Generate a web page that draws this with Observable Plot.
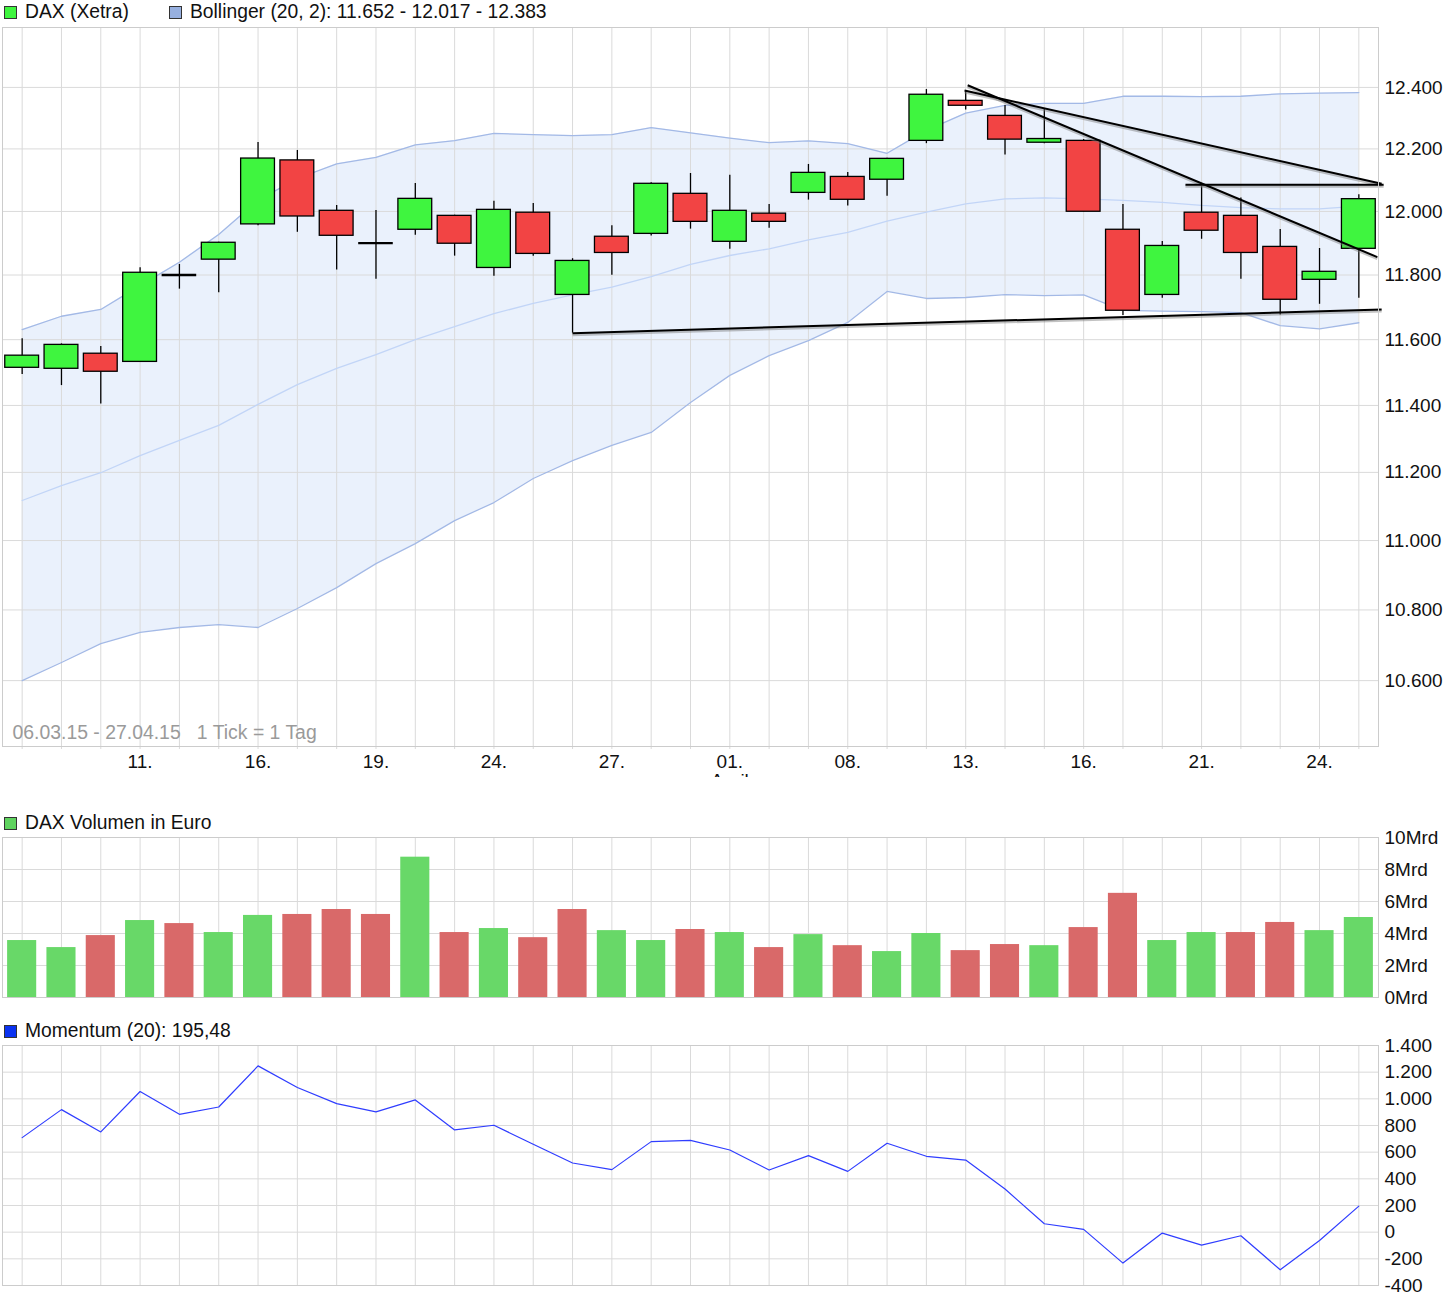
<!DOCTYPE html>
<html><head><meta charset="utf-8">
<script src="https://cdn.jsdelivr.net/npm/d3@7"></script>
<script src="https://cdn.jsdelivr.net/npm/@observablehq/plot@0.6"></script>
<style>
body{margin:0;background:#fff;font-family:"Liberation Sans",Arial,sans-serif;}
#wrap{position:relative;width:1452px;height:1304px;overflow:hidden;background:#fff;}
.leg{position:absolute;font-size:19.3px;color:#111;white-space:nowrap;line-height:20px;display:flex;align-items:center;z-index:2;}
.sq{display:inline-block;width:11px;height:11px;border:1px solid #333;margin-right:8px;}
.abs{position:absolute;left:0;}
</style></head><body><div id="wrap"></div>
<script>
// ---- data ----
const dates = ["06.03","09.03","10.03","11.03","12.03","13.03","16.03","17.03","18.03","19.03","20.03","23.03","24.03","25.03","26.03","27.03","30.03","31.03","01.04","02.04","07.04","08.04","09.04","10.04","13.04","14.04","15.04","16.04","17.04","20.04","21.04","22.04","23.04","24.04","27.04"];
const open  = [11514,11511,11557,11532,11800,11848,11959,12163,12002,11900,11942,11986,11822,11996,11738,11920,11929,12056,11904,11993,12059,12110,12101,12226,12356,12307,12220,12226,11942,11738,11996,11986,11888,11785,11882];
const high  = [11603,11587,11579,11823,11833,11903,12221,12195,12019,12003,12089,11988,12032,12025,11851,11955,12091,12121,12115,12022,12150,12124,12170,12393,12390,12341,12330,12230,12022,11905,12079,12043,11943,11883,12053];
const low   = [11494,11460,11404,11530,11756,11745,11955,11934,11816,11787,11925,11859,11796,11859,11620,11799,11922,11944,11881,11947,12036,12017,12048,12217,12326,12180,12217,11999,11674,11728,11912,11787,11676,11709,11728];
const close = [11551,11584,11502,11807,11800,11901,12169,11984,11923,11900,12040,11898,12005,11866,11844,11869,12088,11967,12002,11967,12123,12037,12168,12376,12340,12230,12232,11999,11689,11891,11939,11869,11723,11810,12039];
const bbUpper  = [11631,11672,11693,11767,11840,11927,12035,12105,12152,12173,12213,12227,12250,12246,12243,12246,12269,12252,12235,12220,12226,12217,12186,12260,12316,12341,12348,12348,12371,12371,12370,12371,12379,12381,12383];
const bbMiddle = [11117,11161,11199,11250,11295,11340,11403,11463,11512,11554,11600,11640,11680,11712,11738,11762,11795,11833,11861,11882,11910,11934,11969,11998,12024,12040,12043,12040,12035,12029,12019,12012,12008,12008,12017];
const bbLower  = [10600,10651,10704,10736,10750,10758,10750,10804,10864,10933,10991,11058,11111,11182,11235,11280,11319,11409,11491,11551,11597,11653,11749,11727,11730,11739,11736,11738,11690,11688,11686,11683,11643,11633,11652];
const volume   = [3.56,3.12,3.87,4.81,4.62,4.06,5.13,5.19,5.50,5.19,8.77,4.06,4.31,3.74,5.50,4.18,3.56,4.25,4.06,3.12,3.93,3.24,2.87,4.00,2.93,3.31,3.24,4.37,6.51,3.56,4.06,4.06,4.69,4.18,5.00];
const momentum = [709,919,752,1055,884,939,1247,1085,964,902,992,767,802,659,519,469,679,689,616,466,574,456,667,569,541,324,63,21,-232,-7,-97,-27,-282,-62,195.48];
const priceTicks = [10600,10800,11000,11200,11400,11600,11800,12000,12200,12400];
const volTicks = [0,2,4,6,8,10];
const momTicks = [-400,-200,0,200,400,600,800,1000,1200,1400];
const labelDates = ["11.03","16.03","19.03","24.03","27.03","01.04","08.04","13.04","16.04","21.04","24.04"];
const labelTexts = ["11.","16.","19.","24.","27.","01.\nApril","08.","13.","16.","21.","24."];
// trend lines drawn on the chart: [dateIndex, price] endpoints
const trendLines = [
  {from:[14, 11620], to:[34.58, 11693]},
  {from:[24.05, 12407], to:[34.47, 11856]},
  {from:[23.97, 12390], to:[34.58, 12088]},
  {from:[29.59, 12085], to:[34.63, 12085]}
];
const titleMain = "DAX (Xetra)";
const titleBB = "Bollinger (20, 2): 11.652 - 12.017 - 12.383";
const titleVol = "DAX Volumen in Euro";
const titleMom = "Momentum (20): 195,48";
const rangeText = "06.03.15 - 27.04.15   1 Tick = 1 Tag";

// ---- build ----
const W = 1452;
const idx = dates.map((d,i)=>i);
const candles = dates.map((d,i)=>({i, date:d, o:open[i], h:high[i], l:low[i], c:close[i],
  up: close[i] >= open[i], volUp: i===0 ? true : close[i] >= close[i-1]}));
const GREEN = "#3ff53f", RED = "#f24444";
const VGREEN = "#68d868", VRED = "#d96969";
const gridStroke = "#dadada";
const frameStroke = "#cccccc";
const fmtDE = d => (d<0?"-":"") + String(Math.abs(d)).replace(/\B(?=(\d{3})+(?!\d))/g, ".");
const font = {fontFamily:"'Liberation Sans', Arial, sans-serif", fontSize:"19px", color:"#111", background:"transparent", overflow:"hidden"};
const xDom = {domain:[-0.5, 34.5], axis:null};
const labelIdx = labelDates.map(d => dates.indexOf(d));
const lineData = trendLines.map(t => ({x1:t.from[0], y1:t.from[1], x2:t.to[0], y2:t.to[1]}));

const main = Plot.plot({
  width: W, height: 757, marginLeft: 2, marginRight: 74, marginTop: 7, marginBottom: 31,
  x: xDom,
  y: {type:"log", domain:[10417, 12598], axis:null},
  style: font,
  marks: [
    Plot.areaY(candles, {x:"i", y1:d=>bbLower[d.i], y2:d=>bbUpper[d.i], fill:"#eaf1fc"}),
    Plot.ruleX(idx, {x:d=>d, stroke:gridStroke, insetBottom:-3}),
    Plot.ruleY(priceTicks, {y:d=>d, stroke:gridStroke}),
    Plot.line(candles, {x:"i", y:d=>bbMiddle[d.i], stroke:"#c2d5f7", strokeWidth:1.3}),
    Plot.line(candles, {x:"i", y:d=>bbUpper[d.i], stroke:"#a3b9e6", strokeWidth:1.3}),
    Plot.line(candles, {x:"i", y:d=>bbLower[d.i], stroke:"#a3b9e6", strokeWidth:1.3}),
    Plot.ruleX(candles, {x:"i", y1:"l", y2:"h", stroke:"#000", strokeWidth:1.3}),
    Plot.rect(candles.filter(d=>d.o!==d.c), {x1:d=>d.i-0.43, x2:d=>d.i+0.43, y1:"o", y2:"c",
      fill:d=>d.up?GREEN:RED, stroke:"#000", strokeWidth:1.3}),
    Plot.ruleY(candles.filter(d=>d.o===d.c), {x1:d=>d.i-0.44, x2:d=>d.i+0.44, y:"o", stroke:"#000", strokeWidth:2.4}),
    Plot.link(lineData, {x1:"x1", y1:"y1", x2:"x2", y2:"y2", stroke:"#777", strokeOpacity:0.45, strokeWidth:3, dy:1.5}),
    Plot.link(lineData, {x1:"x1", y1:"y1", x2:"x2", y2:"y2", stroke:"#000", strokeWidth:2}),
    Plot.frame({stroke:frameStroke}),
    Plot.axisY(priceTicks, {anchor:"right", tickSize:0, tickPadding:6, tickFormat:fmtDE, fontSize:19}),
    Plot.axisX(labelIdx, {anchor:"bottom", tickSize:0, tickPadding:8, fontSize:19,
      tickFormat:d=>labelTexts[labelIdx.indexOf(d)], lineHeight:1}),
    Plot.text([rangeText], {frameAnchor:"bottom-left", dx:10, dy:-8, lineAnchor:"bottom", textAnchor:"start", fill:"#9a9a9a", fontSize:19.4})
  ]
});

const vol = Plot.plot({
  width: W, height: 188, marginLeft: 2, marginRight: 74, marginTop: 15, marginBottom: 13,
  x: xDom,
  y: {domain:[0,10], axis:null},
  style: font,
  marks: [
    Plot.ruleX(idx, {x:d=>d, stroke:gridStroke}),
    Plot.ruleY(volTicks, {y:d=>d, stroke:gridStroke}),
    Plot.rect(candles, {x1:d=>d.i-0.37, x2:d=>d.i+0.37, y1:0, y2:d=>volume[d.i], fill:d=>d.volUp?VGREEN:VRED}),
    Plot.frame({stroke:frameStroke}),
    Plot.axisY(volTicks, {anchor:"right", tickSize:0, tickPadding:6, tickFormat:d=>d+"Mrd", fontSize:19})
  ]
});

const mom = Plot.plot({
  width: W, height: 274, marginLeft: 2, marginRight: 74, marginTop: 15, marginBottom: 19,
  x: xDom,
  y: {domain:[-400,1400], axis:null},
  style: font,
  marks: [
    Plot.ruleX(idx, {x:d=>d, stroke:gridStroke}),
    Plot.ruleY(momTicks, {y:d=>d, stroke:gridStroke}),
    Plot.line(candles, {x:"i", y:d=>momentum[d.i], stroke:"#2f3dff", strokeWidth:1.2}),
    Plot.frame({stroke:frameStroke}),
    Plot.axisY(momTicks, {anchor:"right", tickSize:0, tickPadding:6, tickFormat:fmtDE, fontSize:19})
  ]
});

const wrap = document.getElementById("wrap");
function place(el, top){ el.classList.add("abs"); el.style.top = top+"px"; wrap.appendChild(el); }
place(main, 20); place(vol, 822); place(mom, 1030);
function legend(items, top){
  items.forEach(([text, color, left]) => {
    const d = document.createElement("div");
    d.className = "leg"; d.style.left = left+"px"; d.style.top = top+"px";
    const s = document.createElement("span"); s.className = "sq"; s.style.background = color;
    d.appendChild(s); d.appendChild(document.createTextNode(text));
    wrap.appendChild(d);
  });
}
legend([[titleMain, "#3ff53f", 4], [titleBB, "#97b0e0", 169]], 2);
legend([[titleVol, "#5fd35f", 4]], 813);
legend([[titleMom, "#0a32f0", 4]], 1021);
</script></body></html>
